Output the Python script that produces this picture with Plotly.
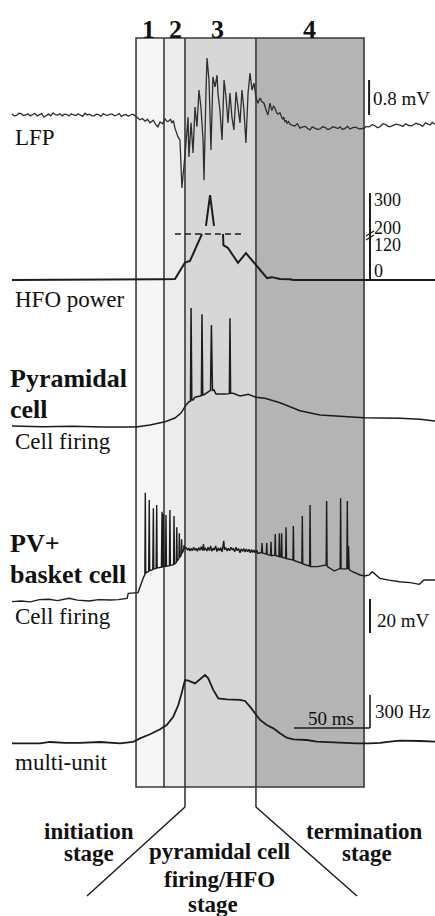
import plotly.graph_objects as go

W, H = 435, 916
SERIF = "Liberation Serif, Times New Roman, serif"
INK = "#1c1c1c"

# ------------------------------------------------------------------ data
STAGE_LABELS = ["1", "2", "3", "4"]
STAGE_EDGES_MS = [81.6, 100.0, 113.8, 160.5, 231.6]

# LFP (mV, relative to baseline)
lfp_t = [0, 1.5, 3, 4.5, 6, 7.5, 9, 10.5, 12, 13.5, 15, 16.5, 18, 19.5, 21, 22.5, 24,
         25.5, 27, 28.5, 30, 31.5, 33, 34.5, 36, 37.5, 39, 40.5, 42, 43.5, 45, 46.5, 48,
         49.5, 51, 52.5, 54, 55.5, 57, 58.5, 60, 61.5, 63, 64.5, 66, 67.5, 69, 70.5, 72,
         73.5, 75, 76.5, 78, 79.5, 81, 82.5, 84.2, 85.8, 87.5, 89.2, 90.8, 93, 94.5, 96,
         97.4, 99, 100.7, 102, 103, 104.2, 105.3, 106.2, 107.2, 109.2, 110.5, 111.8,
         113.2, 114.5, 115.8, 116.4, 117.8,
         119.1, 120.4, 121.7, 123, 124.3, 125.7, 126.3, 127.6, 128.3, 129.6, 130.3,
         130.9, 132.2, 133.6, 134.9, 135.5, 136.8, 138.2, 139.5, 140.8, 142.1, 143.4,
         144.7, 146, 147.4, 148.7, 150, 151.3, 152.6, 153.9, 155.3, 156.6, 157.9,
         159.2, 160.5, 161.8, 163.2, 164.5, 165.8, 167.1, 168.4, 169.7, 171, 172, 173,
         174, 175, 176.3, 177.2, 178, 178.8, 179.6, 180.3, 181, 182, 182.9, 184.5, 186,
         187.7, 189.5, 191.2, 193, 194.5, 196, 197.5, 199, 200.8, 202.6, 204.3, 206,
         207.6, 209.2, 211, 213, 214.4, 215.8, 217.4, 219, 220.7, 222.4, 224.2, 226,
         228.8, 231.6, 233.3, 235, 237, 239, 240.5, 242.1, 244, 246, 248, 250, 252.6,
         255.3, 257.1, 259, 261, 263, 265.7, 268.4, 270.2, 272, 273.5, 275, 276.6, 278.3]
lfp_mv = [0.02, -0.02, -0.01, 0.04, 0.03, -0.01, 0.0, 0.03, -0.02, 0.02, 0.04, -0.02,
          0.01, 0.03, -0.05, -0.01, 0.02, -0.02, 0.05, 0.01, 0.0, 0.03, -0.02, 0.02,
          0.01, -0.02, 0.03, 0.0, -0.01, 0.03, 0.0, -0.03, 0.04, 0.0, 0.02, -0.02,
          -0.02, 0.02, 0.01, -0.03, 0.03, 0.0, -0.01, 0.02, 0.02, -0.02, 0.0, 0.03,
          -0.03, 0.0, 0.01, -0.03, 0.0, 0.02, -0.02, -0.06, -0.11, -0.08, -0.14, -0.10,
          -0.18, -0.12, -0.22, -0.27, -0.16, -0.20, -0.09, -0.15, -0.14, -0.10, -0.18,
          -0.13, -0.30, -0.50, -0.57, -1.67, -1.19, -0.64, -0.05, -0.96, -0.18,
          -0.87, 0.18, -0.27, 0.57, 0.18, -0.57, -1.49, 0.50, 1.30, 0.80, -0.18,
          -0.80, 0.87, 0.64, 0.91, 0.50, 0.11, -0.57, 0.80, 0.41, -0.18, 0.50, -0.05,
          -0.34, 0.53, 0.18, -0.18, 0.57, 0.11, -0.64, 0.50, 0.96, 0.57, 0.73, 0.41,
          0.27, 0.39, 0.30, 0.27, 0.12, 0.0, 0.27, 0.10, 0.20, 0.16, 0.06, 0.02, 0.05,
          -0.04, -0.10, -0.05, -0.16, -0.12, -0.19, -0.15, -0.21, -0.24, -0.25, -0.20,
          -0.30, -0.27, -0.26, -0.31, -0.34, -0.27, -0.29, -0.33, -0.32, -0.27, -0.28,
          -0.33, -0.32, -0.27, -0.29, -0.31, -0.27, -0.33, -0.31, -0.26, -0.32, -0.29,
          -0.28, -0.32, -0.30, -0.26, -0.27, -0.22, -0.25, -0.29, -0.27, -0.20, -0.22,
          -0.27, -0.25, -0.21, -0.23, -0.26, -0.20, -0.24, -0.25, -0.19, -0.22, -0.26,
          -0.18, -0.21, -0.23, -0.17, -0.21]

# HFO power (broken axis; None = break in the trace)
hfo_t = [0, 95.4, 96, 107.2, 113.8, 117.1, 125.0, 126.0, 127.6, 130.3, 132.9, 134.0,
         138.8, 139.1, 142.1, 148.7, 153.9, 160.5, 167.8, 171.0, 176.3, 182.9, 184.9,
         278.3]
hfo_power = [0, 0, 2, 3, 55, 60, 166, None, 206, 294, 206, None, 166, 110, 101, 54,
             85, 47, 6, 9, 3, 2, 0, 0]
HFO_THRESHOLD = 166
HFO_THRESHOLD_SPAN_MS = [107.2, 153.3]
HFO_TICKS = [0, 120, 200, 300]

# Pyramidal cell membrane potential (mV)
pyr_t = [0, 20, 40, 60, 81.6, 90.8, 100.7, 107.2, 111.2, 114.5, 116.4, 117.4, 117.8,
         118.3, 119.1, 120.4, 123.7, 124.6, 125.0, 125.5, 126.3, 128.9, 130.6, 131.2,
         131.6, 131.9, 132.9, 134.2, 140.1, 143.0, 143.4, 143.8, 145.4, 150, 153.3,
         155.3, 160.5, 166.4, 176.3, 189.5, 202.6, 215.8, 231.6, 255.3, 268.4, 278.3]
pyr_mv = [-64.4, -64.8, -64.5, -65, -65, -63.8, -61.9, -59.7, -56.8, -52, -50.1,
          -49.8, 5, -49, -49.1, -47.5, -46.8, -46.5, 1.3, -46.2, -46, -44.2, -43.5,
          -5, -18, -43.5, -43.2, -45.6, -45.6, -45.4, -1, -45.2, -45.2, -46.8, -46.2,
          -45.8, -47.5, -48.1, -50.7, -55.4, -57.9, -58.5, -59.5, -59.9, -60.5, -61.5]

# PV+ basket cell membrane potential (mV)
pv_t = [0, 6, 12, 18, 24.3, 30, 37.5, 43, 50.7, 57, 64.5, 70, 75.7, 76.5, 82.9, 84.9,
        86.5, 87.4, 87.7, 88.0, 89.9, 90.3, 90.6, 92.6, 93.0, 93.3, 94.8, 95.2, 95.5,
        98.3, 98.7, 99.0, 99.2, 99.5, 99.8, 101.0, 101.3, 101.6, 103.6, 103.9, 104.2,
        106.3, 106.6, 106.9, 108.1, 108.4, 108.7, 109.8, 110.1, 110.4, 111.3, 111.6,
        111.9, 112.9, 113.2, 113.5,
        114.5, 115.5, 116.3, 117, 117.8, 118.6, 119.5, 120.3, 121.2, 122, 122.8, 123.6,
        124.5, 125.3, 126, 126.4, 127.3, 128.2, 129, 129.9, 130.7, 131.5, 132.3, 133.1,
        134, 134.8, 135.6, 136.5, 137.3, 138.2, 139, 139.3, 139.8, 140.6, 141.5, 142.3,
        143.2, 144, 144.9, 145.7, 146.6, 147.4, 148.3, 149.1, 150, 150.8, 151.7, 152.5,
        153.3, 154.2, 155, 155.9, 156.7, 157.6, 158.4, 159.3, 160.1, 161, 161.8,
        164.2, 164.5, 164.8, 167.3, 167.6, 167.9, 170.1, 170.4, 170.7, 172.9, 173.2,
        173.5, 175.6, 175.9, 176.2, 177.1, 177.4, 177.7, 180.0, 180.3, 180.6, 184.8,
        185.1, 185.4, 190.7, 191.0, 191.3, 195.8, 196.1, 196.4, 201, 206.7, 207.0,
        207.3, 212, 215.9, 216.2, 216.5, 220.3, 220.6, 220.9, 221.4, 221.8, 224, 229,
        232, 235, 237, 242, 248, 255, 262, 268, 271, 278.3]
pv_mv = [-64.8, -64.4, -64.9, -63.6, -63.4, -64.2, -62.8, -63.9, -64.4, -63.6, -63.8,
         -63.6, -62.9, -59.9, -59.5, -54,
         -50.5, -49, -0.7, -48, -47, -5, -46.5, -46, -9.9, -45.5, -45.2, -7.9, -45,
         -44.5, -11.9, -44.3, -44.2, -13.2, -44.1, -44, -13.8, -43.9, -43.6, -10.9,
         -43.5, -43, -14.4, -42.8, -41.8, -21.1, -41, -39.5, -24.6, -38.8, -37.5,
         -28.1, -36.5, -34.5, -31.5, -33.5,
         -33, -34.5, -33.2, -35, -33.5, -34.8, -32.8, -34.6, -33.4, -35.2, -33, -34.6,
         -32.5, -34.8, -31, -34.6, -33.4, -35, -32.8, -34.8, -32, -35.2, -33.4, -34.4,
         -32, -35.3, -33.2, -34.8, -33, -35.6, -31.5, -29, -34.2, -33, -35, -33.4,
         -34.8, -32.8, -34.2, -33.6, -35.4, -32.8, -34.8, -33.6, -36, -33.8, -35.2,
         -33.5, -35.6, -33.8, -35.4, -34, -36, -34.2, -35.8, -34.4, -36.2, -34.6, -36.4,
         -35.8, -30.3, -36.2, -36.8, -30.3, -37, -37.6, -29.5, -37.8, -37.4, -25,
         -37.6, -38.3, -24.6, -38.4, -38.5, -24.6, -38.7, -39.3, -21.1, -39.5, -40.3,
         -20.3, -40.6, -42.2, -14.4, -42.6, -43.8, -7.9, -44.2, -44.2, -43.2, -5.6,
         -44, -46.8, -45.2, -4, -45.5, -45.5, -5.6, -45.6, -32, -46, -47.2, -49.1,
         -49.7, -49.1, -47.2, -51.1, -52.1, -53.1, -53.6, -54.6, -52.1, -52.1]

# Multi-unit firing rate (Hz)
mu_t = [0, 18.4, 25, 34.9, 44.7, 57.9, 71.1, 75, 79.6, 84.2, 90.8, 97.4, 101.8, 106.1,
        109.4, 111.6, 113.8, 116, 120.4, 123.7, 127, 129.1, 132.4, 135.7, 141.2, 150,
        153.3, 156.6, 159.9, 163.2, 167.6, 171.9, 176.3, 180.7, 185.1, 193.9, 200.5,
        213.6, 226.8, 235.5, 242.1, 248.7, 255.3, 268.4, 278.3]
mu_hz = [0, 0, 12, 3, 3, 12, 0, 5, 12, 45, 82, 127, 166, 242, 348, 455, 575, 569, 545,
         582, 621, 591, 485, 409, 400, 394, 385, 333, 273, 212, 166, 136, 91, 51, 36, 30,
         15, 5, 0, 0, 3, 15, 24, 21, 15]

# Scale bars
LFP_BAR_MV = 0.8
VM_BAR_MV = 20
MU_BAR_HZ = 300
TIME_BAR_MS = 50

# ------------------------------------------------------------------ layout helpers
X_RANGE = [-12 / 1.52, (W - 12) / 1.52]


def yrange(p0, v0, k):
    """axis range placing value v0 at pixel row p0 with k px per unit"""
    return [v0 - (H - p0) / k, v0 + p0 / k]


def py(p):
    return 1 - p / H


def px(x):
    return x / W


def hfo_disp(v):
    if v is None:
        return None
    if v <= 120:
        return v * 38 / 120
    if v <= 200:
        return 38 + (v - 120) * 14 / 80
    return 52 + (v - 200) * 0.35


fig = go.Figure()

line_common = dict(mode="lines", hoverinfo="skip", showlegend=False)
fig.add_trace(go.Scatter(x=lfp_t, y=lfp_mv, yaxis="y", line=dict(color="#2e2e2e", width=1.3), **line_common))
fig.add_trace(go.Scatter(x=hfo_t, y=[hfo_disp(v) for v in hfo_power], yaxis="y2",
                         connectgaps=False, line=dict(color=INK, width=2), **line_common))
fig.add_trace(go.Scatter(x=HFO_THRESHOLD_SPAN_MS, y=[hfo_disp(HFO_THRESHOLD)] * 2, yaxis="y2",
                         line=dict(color=INK, width=1.6, dash="6px,4px"), **line_common))
fig.add_trace(go.Scatter(x=pyr_t, y=pyr_mv, yaxis="y3", line=dict(color=INK, width=1.5), **line_common))
fig.add_trace(go.Scatter(x=pv_t, y=pv_mv, yaxis="y4", line=dict(color=INK, width=1.4), **line_common))
fig.add_trace(go.Scatter(x=mu_t, y=mu_hz, yaxis="y5", line=dict(color=INK, width=1.8), **line_common))

ax_hidden = dict(visible=False, fixedrange=True, showgrid=False, zeroline=False)
BAR_X = (370 - 12) / 1.52  # scale-bar column

shapes = []
fills = ["#f6f6f6", "#ececec", "#d7d7d7", "#b4b4b4"]
for i in range(4):
    shapes.append(dict(type="rect", xref="x", yref="paper", x0=STAGE_EDGES_MS[i], x1=STAGE_EDGES_MS[i + 1],
                       y0=py(787), y1=py(38), fillcolor=fills[i], line_width=0, layer="below"))
shapes.append(dict(type="rect", xref="x", yref="paper", x0=STAGE_EDGES_MS[0], x1=STAGE_EDGES_MS[-1],
                   y0=py(787), y1=py(38), line=dict(color="#3a3a3a", width=1.6), layer="below"))
for i, e in enumerate(STAGE_EDGES_MS[1:4]):
    bottom = 787 if i == 0 else 807
    shapes.append(dict(type="line", xref="x", yref="paper", x0=e, x1=e, y0=py(bottom), y1=py(38),
                       line=dict(color="#3a3a3a", width=1.6), layer="below"))
# funnel lines to the stage captions
shapes.append(dict(type="line", xref="x", yref="paper", x0=STAGE_EDGES_MS[2], y0=py(807),
                   x1=(87 - 12) / 1.52, y1=py(896), line=dict(color=INK, width=1.5)))
shapes.append(dict(type="line", xref="x", yref="paper", x0=STAGE_EDGES_MS[3], y0=py(807),
                   x1=(357 - 12) / 1.52, y1=py(896), line=dict(color=INK, width=1.5)))
# scale bars
shapes.append(dict(type="line", xref="x", yref="y", x0=BAR_X - 0.6, x1=BAR_X - 0.6, y0=0, y1=LFP_BAR_MV,
                   line=dict(color=INK, width=2)))
shapes.append(dict(type="line", xref="x", yref="y2", x0=BAR_X, x1=BAR_X, y0=hfo_disp(0), y1=hfo_disp(300),
                   line=dict(color=INK, width=2)))
shapes.append(dict(type="line", xref="x", yref="y4", x0=BAR_X, x1=BAR_X, y0=-83.2, y1=-83.2 + VM_BAR_MV,
                   line=dict(color=INK, width=2)))
shapes.append(dict(type="line", xref="x", yref="y5", x0=BAR_X, x1=BAR_X, y0=139, y1=139 + MU_BAR_HZ,
                   line=dict(color=INK, width=1.6)))
shapes.append(dict(type="line", xref="x", yref="y5", x0=BAR_X - TIME_BAR_MS, x1=BAR_X, y0=139, y1=139,
                   line=dict(color=INK, width=1.6)))
# axis break mark on HFO scale
for dy in (0, 4):
    shapes.append(dict(type="line", xref="paper", yref="paper", x0=px(366), x1=px(374),
                       y0=py(236 + dy), y1=py(231 + dy), line=dict(color=INK, width=1.4)))

ann = []


def text(t, x, y, size, bold=False, anchor="left"):
    ann.append(dict(text=f"<b>{t}</b>" if bold else t, x=px(x), y=py(y), xref="paper", yref="paper",
                    xanchor=anchor, yanchor="middle", showarrow=False,
                    font=dict(family=SERIF, size=size, color="#111")))


# stage numbers
for lab, cx in zip(STAGE_LABELS, [148, 175, 218, 309]):
    text(lab, cx, 29, 26, bold=True, anchor="center")

# trace labels
text("LFP", 13, 137, 23)
text("HFO power", 13, 299, 23)
text("Pyramidal", 8, 378, 26, bold=True)
text("cell", 8, 409, 26, bold=True)
text("Cell firing", 13, 441, 23)
text("PV+", 8, 543, 26, bold=True)
text("basket cell", 8, 574, 26, bold=True)
text("Cell firing", 13, 616, 23)
text("multi-unit", 13, 762, 23)

# scale texts
text(f"{LFP_BAR_MV} mV", 371, 99, 19)
for v, yy in zip(HFO_TICKS[::-1], [200, 228, 245, 271]):
    text(str(v), 372, yy, 18)
text(f"{VM_BAR_MV} mV", 375, 620, 19)
text(f"{MU_BAR_HZ} Hz", 373, 711, 19)
text(f"{TIME_BAR_MS} ms", 331, 718, 19, anchor="center")

# stage captions
text("initiation", 89, 831, 23, bold=True, anchor="center")
text("stage", 89, 853, 23, bold=True, anchor="center")
text("pyramidal cell", 219, 851, 23, bold=True, anchor="center")
text("firing/HFO", 219, 879, 23, bold=True, anchor="center")
text("stage", 213, 904, 23, bold=True, anchor="center")
text("termination", 364, 831, 23, bold=True, anchor="center")
text("stage", 367, 853, 23, bold=True, anchor="center")

fig.update_layout(
    width=W, height=H, margin=dict(l=0, r=0, t=0, b=0),
    paper_bgcolor="white", plot_bgcolor="white",
    xaxis=dict(range=X_RANGE, **ax_hidden),
    yaxis=dict(range=yrange(115, 0, 43.75), **ax_hidden),
    yaxis2=dict(range=yrange(280, 0, 1), overlaying="y", **ax_hidden),
    yaxis3=dict(range=yrange(427, -65, 1.7), overlaying="y", **ax_hidden),
    yaxis4=dict(range=yrange(602, -65, 1.7), overlaying="y", **ax_hidden),
    yaxis5=dict(range=yrange(743.3, 0, 0.11), overlaying="y", **ax_hidden),
    shapes=shapes, annotations=ann, showlegend=False,
)

fig.write_html("out.html", config={"displayModeBar": False, "staticPlot": True},
               post_script="document.body.style.margin='0';document.body.style.overflow='hidden';")
